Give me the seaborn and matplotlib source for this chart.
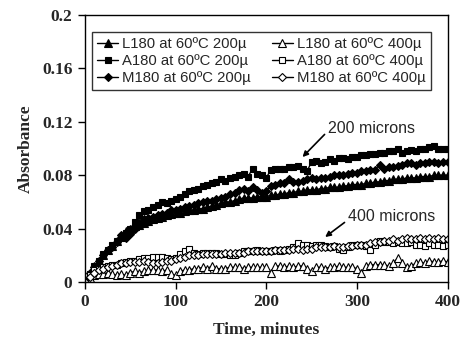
import numpy as np
import pandas as pd
import matplotlib
matplotlib.use("Agg")
import matplotlib.pyplot as plt
import seaborn as sns

time_min = list(range(0, 401, 5))

L180_200 = [0.000, 0.006, 0.012, 0.016, 0.020, 0.024, 0.027, 0.031, 0.034, 0.038,
            0.040, 0.042, 0.043, 0.044, 0.046, 0.047, 0.048, 0.049, 0.050, 0.051,
            0.052, 0.052, 0.053, 0.054, 0.054, 0.055, 0.055, 0.056, 0.057, 0.058,
            0.059, 0.060, 0.060, 0.061, 0.062, 0.063, 0.063, 0.063, 0.064, 0.064,
            0.064, 0.065, 0.065, 0.066, 0.066, 0.067, 0.067, 0.068, 0.068, 0.069,
            0.069, 0.069, 0.070, 0.070, 0.071, 0.071, 0.071, 0.072, 0.072, 0.073,
            0.073, 0.073, 0.074, 0.074, 0.075, 0.075, 0.076, 0.076, 0.077, 0.077,
            0.077, 0.078, 0.078, 0.078, 0.079, 0.079, 0.079, 0.080, 0.080, 0.080,
            0.080]

A180_200 = [0.000, 0.006, 0.012, 0.016, 0.021, 0.024, 0.028, 0.031, 0.034, 0.037,
            0.040, 0.045, 0.050, 0.053, 0.054, 0.056, 0.058, 0.060, 0.059, 0.061,
            0.062, 0.064, 0.066, 0.068, 0.069, 0.070, 0.072, 0.073, 0.074, 0.075,
            0.077, 0.076, 0.078, 0.079, 0.080, 0.081, 0.079, 0.085, 0.081, 0.080,
            0.078, 0.084, 0.085, 0.085, 0.085, 0.086, 0.086, 0.087, 0.085, 0.083,
            0.090, 0.091, 0.089, 0.090, 0.092, 0.091, 0.093, 0.093, 0.092, 0.094,
            0.094, 0.095, 0.095, 0.096, 0.096, 0.097, 0.097, 0.098, 0.098, 0.100,
            0.097, 0.098, 0.099, 0.098, 0.100, 0.100, 0.101, 0.102, 0.100, 0.100,
            0.100]

M180_200 = [0.000, 0.007, 0.011, 0.016, 0.020, 0.024, 0.026, 0.030, 0.035, 0.033,
            0.036, 0.040, 0.044, 0.047, 0.048, 0.049, 0.050, 0.051, 0.052, 0.054,
            0.054, 0.055, 0.056, 0.057, 0.058, 0.059, 0.060, 0.061, 0.061, 0.062,
            0.063, 0.064, 0.066, 0.067, 0.069, 0.070, 0.068, 0.071, 0.069, 0.067,
            0.068, 0.072, 0.073, 0.074, 0.074, 0.077, 0.075, 0.075, 0.076, 0.077,
            0.078, 0.077, 0.078, 0.078, 0.079, 0.080, 0.080, 0.080, 0.081, 0.082,
            0.082, 0.083, 0.083, 0.084, 0.084, 0.088, 0.085, 0.086, 0.086, 0.087,
            0.088, 0.089, 0.089, 0.088, 0.089, 0.089, 0.090, 0.090, 0.089, 0.090,
            0.090]

L180_400 = [0.000, 0.003, 0.005, 0.006, 0.006, 0.007, 0.006, 0.005, 0.006, 0.005,
            0.007, 0.008, 0.007, 0.008, 0.009, 0.009, 0.009, 0.008, 0.009, 0.006,
            0.005, 0.008, 0.009, 0.009, 0.010, 0.010, 0.011, 0.010, 0.012, 0.010,
            0.010, 0.010, 0.011, 0.011, 0.011, 0.010, 0.011, 0.011, 0.011, 0.011,
            0.011, 0.007, 0.012, 0.012, 0.011, 0.012, 0.011, 0.012, 0.012, 0.010,
            0.008, 0.011, 0.011, 0.010, 0.011, 0.011, 0.012, 0.011, 0.011, 0.011,
            0.010, 0.007, 0.012, 0.013, 0.013, 0.013, 0.013, 0.012, 0.014, 0.018,
            0.014, 0.011, 0.012, 0.014, 0.015, 0.014, 0.016, 0.015, 0.015, 0.016,
            0.015]

A180_400 = [0.000, 0.005, 0.009, 0.010, 0.011, 0.012, 0.013, 0.013, 0.014, 0.015,
            0.016, 0.016, 0.017, 0.018, 0.018, 0.019, 0.019, 0.019, 0.018, 0.017,
            0.018, 0.021, 0.023, 0.025, 0.022, 0.021, 0.022, 0.022, 0.022, 0.022,
            0.021, 0.021, 0.020, 0.020, 0.022, 0.023, 0.023, 0.023, 0.024, 0.023,
            0.023, 0.023, 0.024, 0.023, 0.024, 0.025, 0.026, 0.029, 0.028, 0.028,
            0.027, 0.028, 0.028, 0.027, 0.026, 0.027, 0.025, 0.024, 0.026, 0.028,
            0.028, 0.028, 0.027, 0.024, 0.028, 0.031, 0.030, 0.030, 0.029, 0.030,
            0.029, 0.029, 0.030, 0.028, 0.028, 0.027, 0.029, 0.028, 0.028, 0.027,
            0.028]

M180_400 = [0.000, 0.004, 0.007, 0.009, 0.010, 0.011, 0.012, 0.013, 0.014, 0.014,
            0.015, 0.015, 0.015, 0.016, 0.015, 0.014, 0.014, 0.015, 0.016, 0.016,
            0.017, 0.018, 0.019, 0.020, 0.020, 0.020, 0.021, 0.021, 0.021, 0.021,
            0.021, 0.022, 0.022, 0.022, 0.022, 0.022, 0.023, 0.023, 0.023, 0.023,
            0.023, 0.023, 0.024, 0.024, 0.024, 0.024, 0.025, 0.025, 0.024, 0.025,
            0.025, 0.026, 0.026, 0.026, 0.026, 0.027, 0.026, 0.026, 0.027, 0.027,
            0.028, 0.028, 0.028, 0.029, 0.030, 0.030, 0.031, 0.031, 0.032, 0.031,
            0.032, 0.033, 0.032, 0.032, 0.033, 0.032, 0.033, 0.032, 0.033, 0.032,
            0.032]

series_labels = ["L180 at 60ºC 200µ", "A180 at 60ºC 200µ", "M180 at 60ºC 200µ",
                 "L180 at 60ºC 400µ", "A180 at 60ºC 400µ", "M180 at 60ºC 400µ"]
x_ticks = [0, 100, 200, 300, 400]
y_ticks = [0, 0.04, 0.08, 0.12, 0.16, 0.2]
y_tick_labels = ["0", "0.04", "0.08", "0.12", "0.16", "0.2"]

sns.set_style("ticks")
plt.rcParams["font.family"] = ["Liberation Sans", "DejaVu Sans"]

fig = plt.figure(figsize=(4.63, 3.52), dpi=100)
ax = fig.add_axes([85 / 463, 1 - 282 / 352, 362.5 / 463, 267 / 352])

all_vals = [L180_200, A180_200, M180_200, L180_400, A180_400, M180_400]
styles = [("^", "black", 5.6), ("s", "black", 4.4), ("D", "black", 4.2),
          ("^", "white", 5.2), ("s", "white", 4.4), ("D", "white", 4.2)]

for lab, vals, (mk, fc, ms) in zip(series_labels, all_vals, styles):
    sns.lineplot(x=time_min, y=vals, ax=ax, color="black", linewidth=1.0,
                 marker=mk, markersize=ms, markerfacecolor=fc,
                 markeredgecolor="black", markeredgewidth=0.8, label=lab,
                 legend=False)

ax.set_xlim(0, 400)
ax.set_ylim(0, 0.2)
ax.set_xticks(x_ticks)
ax.set_yticks(y_ticks)
ax.set_yticklabels(y_tick_labels)
for s in ax.spines.values():
    s.set_visible(True)
    s.set_color("black")
    s.set_linewidth(1.0)
ax.tick_params(direction="out", length=5, width=1, color="black",
               top=False, right=False, pad=4)
serif = {"family": "Liberation Serif", "weight": "bold", "size": 12.5}
for t in ax.get_xticklabels() + ax.get_yticklabels():
    t.set_fontfamily("Liberation Serif")
    t.set_fontweight("bold")
    t.set_fontsize(12.5)
ax.set_xlabel("Time, minutes", fontdict=serif, labelpad=8)
ax.set_ylabel("Absorbance", fontdict=serif, labelpad=6)

handles, labels = ax.get_legend_handles_labels()
leg = fig.legend(handles, labels, ncol=2, loc="upper left",
                 bbox_to_anchor=(92 / 463, 1 - 32 / 352),
                 bbox_transform=fig.transFigure, borderaxespad=0,
                 prop={"family": "Liberation Sans", "size": 10.7},
                 frameon=True, fancybox=False, edgecolor="black",
                 handlelength=1.4, handletextpad=0.3, columnspacing=1.4,
                 labelspacing=0.2, borderpad=0.35)
leg.get_frame().set_linewidth(1.0)

ax.annotate("200 microns", xy=(240, 0.0936), xytext=(268, 0.1153),
            fontsize=11.5, fontfamily="Liberation Sans", va="center", ha="left",
            arrowprops=dict(arrowstyle="-|>", color="black", lw=1.2,
                            mutation_scale=8, shrinkA=0, shrinkB=0,
                            relpos=(0, 0.3)))
ax.annotate("400 microns", xy=(265, 0.0337), xytext=(290, 0.0487),
            fontsize=11.5, fontfamily="Liberation Sans", va="center", ha="left",
            arrowprops=dict(arrowstyle="-|>", color="black", lw=1.2,
                            mutation_scale=8, shrinkA=0, shrinkB=0,
                            relpos=(0, 0.3)))

fig.savefig("out.png", dpi=100)
